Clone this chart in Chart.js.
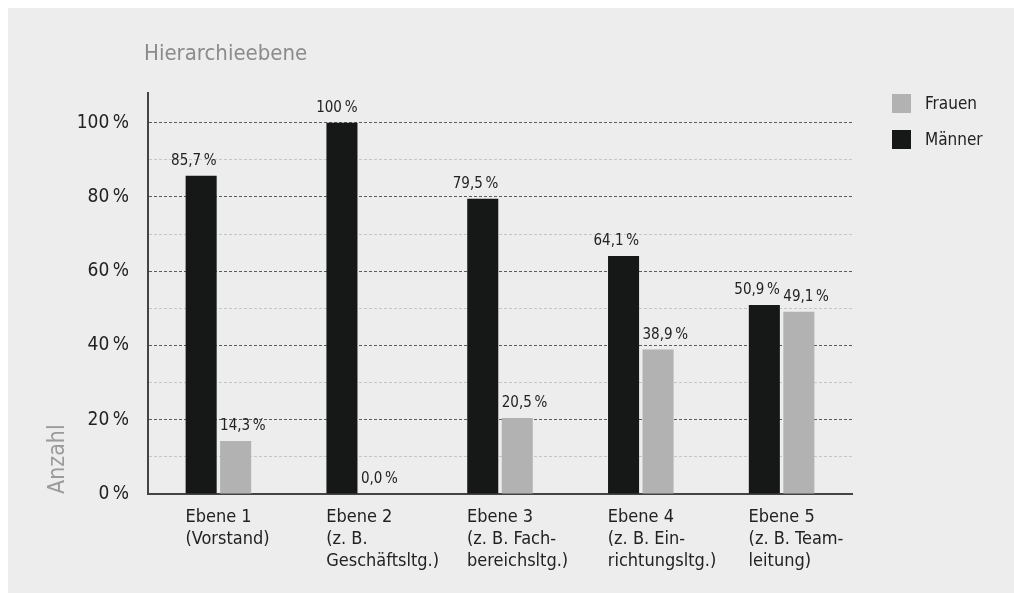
<!DOCTYPE html>
<html lang="de">
<head>
<meta charset="utf-8">
<script src="https://cdn.jsdelivr.net/npm/chart.js@4"></script>
<style>
  body { margin: 0; background: #fff; }
  #panel {
    position: absolute; left: 8px; top: 8px; width: 1006px; height: 585px;
    background: #ecedec;
    font-family: 'DejaVu Sans Condensed', sans-serif;
  }
  #chart-box { position: absolute; left: 0; top: 0; width: 1006px; height: 585px; }
  #titel {
    position: absolute; left: 136px; top: 32px;
    font-size: 22px; color: #8a8b8a;
  }
  #legende { position: absolute; left: 884px; top: 86px; }
  .leg-item { height: 36px; display: flex; align-items: flex-start; font-size: 17px; color: #222; }
  .leg-box { width: 19px; height: 19px; margin-right: 14px; }
  .leg-item span { line-height: 19px; }
</style>
</head>
<body>
<div id="panel">
  <div id="chart-box"><canvas id="myChart"></canvas></div>
  <div id="titel">Hierarchieebene</div>
  <div id="legende"></div>
</div>
<script>
const ebenen = [
  ['Ebene 1', '(Vorstand)'],
  ['Ebene 2', '(z. B.', 'Geschäftsltg.)'],
  ['Ebene 3', '(z. B. Fach-', 'bereichsltg.)'],
  ['Ebene 4', '(z. B. Ein-', 'richtungsltg.)'],
  ['Ebene 5', '(z. B. Team-', 'leitung)']
];
const maenner = [85.7, 100, 79.5, 64.1, 50.9];
const frauen = [14.3, 0, 20.5, 38.9, 49.1];
const y_ticks = [0, 20, 40, 60, 80, 100];

const farbe_maenner = '#161817';
const farbe_frauen = '#b1b2b1';
const schrift = "'DejaVu Sans Condensed', sans-serif";

const formatProzent = (v) => v === 100 ? '100\u2009%' : v.toFixed(1).replace('.', ',') + '\u2009%';

// legend, Frauen first like in the original
const legende = document.getElementById('legende');
[['Frauen', farbe_frauen], ['Männer', farbe_maenner]].forEach(([name, farbe]) => {
  legende.innerHTML += `<div class="leg-item"><div class="leg-box" style="background:${farbe}"></div><span>${name}</span></div>`;
});

// values above the bars
const wertLabels = {
  id: 'wertLabels',
  afterDatasetsDraw(chart) {
    const ctx = chart.ctx;
    ctx.save();
    ctx.font = `15px ${schrift}`;
    ctx.fillStyle = '#222';
    ctx.textBaseline = 'bottom';
    chart.data.datasets.forEach((ds, i) => {
      const meta = chart.getDatasetMeta(i);
      meta.data.forEach((bar, j) => {
        const links = bar.x - bar.width / 2;
        const rechts = bar.x + bar.width / 2;
        if (i === 0) {
          ctx.textAlign = 'right';
          ctx.fillText(formatProzent(ds.data[j]), rechts, bar.y - 7);
        } else {
          ctx.textAlign = 'left';
          ctx.fillText(formatProzent(ds.data[j]), links, bar.y - 7);
        }
      });
    });
    ctx.restore();
  }
};

const data = {
  labels: ebenen,
  datasets: [
    { label: 'Männer', data: maenner, backgroundColor: farbe_maenner },
    { label: 'Frauen', data: frauen, backgroundColor: farbe_frauen }
  ]
};

const config = {
  type: 'bar',
  data,
  plugins: [wertLabels],
  options: {
    responsive: true,
    maintainAspectRatio: false,
    animation: false,
    categoryPercentage: 0.49,
    barPercentage: 0.9,
    layout: { padding: { left: 0, top: 85, right: 162, bottom: 0 } },
    plugins: {
      legend: { display: false },
      tooltip: { enabled: false }
    },
    scales: {
      x: {
        grid: { display: false, drawTicks: false },
        border: { display: true, color: '#444', width: 2 },
        ticks: {
          autoSkip: false,
          maxRotation: 0,
          align: 'start',
          labelOffset: -33,
          padding: 12,
          color: '#222',
          font: { family: schrift, size: 18, lineHeight: 1.22 }
        },
        afterFit(scale) { scale.height = 99; }
      },
      y: {
        min: 0,
        max: 108,
        grid: {
          drawTicks: false,
          lineWidth: 1,
          color: (c) => (c.tick && c.tick.value % 20 === 0) ? '#5c5c5c' : '#c6c6c6'
        },
        border: { display: true, color: '#444', width: 2, dash: [3, 2] },
        ticks: {
          stepSize: 10,
          includeBounds: false,
          padding: 19,
          color: '#222',
          font: { family: schrift, size: 19 },
          callback: (v) => y_ticks.includes(v) ? v + '\u2009%' : ''
        },
        title: {
          display: true,
          text: 'Anzahl',
          align: 'start',
          color: '#9a9b9a',
          font: { family: schrift, size: 23, lineHeight: 1.2 },
          padding: { top: 36, bottom: 0 }
        },
        afterFit(scale) { scale.width = 140; }
      }
    }
  }
};

const myCanvaChart = new Chart(document.getElementById('myChart'), config);
</script>
</body>
</html>
